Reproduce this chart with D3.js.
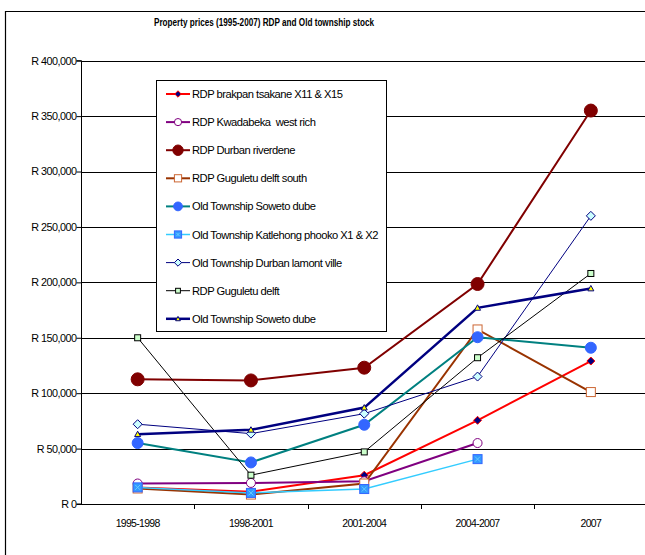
<!DOCTYPE html>
<html><head><meta charset="utf-8">
<script src="https://cdn.jsdelivr.net/npm/d3@7"></script>
<style>body{margin:0;background:#fff}svg{display:block;font-family:"Liberation Sans",Arial,sans-serif}text{white-space:pre}</style>
</head><body><svg id="c" width="645" height="555"></svg>
<script>
const categories = ["1995-1998","1998-2001","2001-2004","2004-2007","2007"];
const yTicks = [0,50000,100000,150000,200000,250000,300000,350000,400000];
const seriesNames = ["RDP brakpan tsakane X11 & X15","RDP Kwadabeka  west rich","RDP Durban riverdene","RDP Guguletu delft south","Old Township Soweto dube","Old Township Katlehong phooko X1 & X2","Old Township Durban lamont ville","RDP Guguletu delft","Old Township Soweto dube"];
const brakpan    = [15000, 11000, 26000, 75500, 129000];
const kwadabeka  = [18500, 19000, 20500, 55000, null];
const riverdene  = [112500, 111500, 123000, 198500, 355000];
const delftSouth = [14000, 8500, 18500, 157500, 101000];
const sowetoTeal = [55000, 37500, 71500, 150500, 141000];
const katlehong  = [15000, 10000, 13500, 40500, null];
const lamont     = [72000, 63500, 81500, 115000, 260000];
const delft      = [150000, 26000, 47000, 132000, 208000];
const sowetoNavy = [63000, 67000, 87000, 177000, 194500];
const seriesValues = [brakpan,kwadabeka,riverdene,delftSouth,sowetoTeal,katlehong,lamont,delft,sowetoNavy];

const styles = [
 {line:"#ff0000", w:2, m:"diamond", size:8, fill:"#000080", stroke:"#ff0000"},
 {line:"#800080", w:2, m:"circle", size:4.5, fill:"#ffffff", stroke:"#800080"},
 {line:"#800000", w:2, m:"circle", size:6.5, fill:"#800000", stroke:"#800000"},
 {line:"#993300", w:2, m:"square", size:9, fill:"#ffffff", stroke:"#cc6633"},
 {line:"#008080", w:2, m:"circle", size:5.5, fill:"#3366ff", stroke:"#3366ff"},
 {line:"#33ccff", w:1.5, m:"xsquare", size:9, fill:"#3399ff", stroke:"#3366ff"},
 {line:"#000080", w:1, m:"diamond", size:9, fill:"#ccffff", stroke:"#000080"},
 {line:"#000000", w:1, m:"square", size:6, fill:"#ccffcc", stroke:"#000000"},
 {line:"#000080", w:2.5, m:"triangle", size:6, fill:"#ffff00", stroke:"#000080"}
];

const svg = d3.select("#c");
const L=81, R=647.5, T=60.7, B=504;
const x = d3.scaleBand().domain(categories).range([L,R]);
const cx = c => x(c)+x.bandwidth()/2;
const y = d3.scaleLinear().domain([0,400000]).range([B,T]);

// frame
svg.append("path").attr("d","M5.5,555 V11.5 H645").attr("fill","none").attr("stroke","#000").attr("stroke-width",1.2);

// title
svg.append("text").attr("x",264).attr("y",26).attr("text-anchor","middle")
 .attr("font-size",10.5).attr("font-weight","bold").attr("textLength",220).attr("lengthAdjust","spacingAndGlyphs")
 .text("Property prices (1995-2007) RDP and Old township stock");

// grid
svg.append("g").selectAll("line").data(yTicks.filter(d=>d>0)).join("line")
 .attr("x1",L).attr("x2",645).attr("y1",d=>Math.round(y(d))+0.5).attr("y2",d=>Math.round(y(d))+0.5)
 .attr("stroke","#000").attr("stroke-width",1);

// y axis
const yAxis = d3.axisLeft(y).tickValues(yTicks).tickSize(5).tickFormat(d=>"R "+d3.format(",")(d));
const gy = svg.append("g").attr("transform",`translate(${L+0.5},0)`).call(yAxis);
gy.select(".domain").attr("d",`M-5,${y(400000)}H0V${B}H-5`);
gy.selectAll("text").attr("font-size",10.8).attr("font-family","Liberation Sans, Arial, sans-serif").attr("letter-spacing",-0.5).attr("fill","#000").attr("x",-5);
gy.selectAll("text").filter(d=>d===0).text("R 0");

// x axis
svg.append("line").attr("x1",L).attr("x2",645).attr("y1",B+0.5).attr("y2",B+0.5).attr("stroke","#000");
svg.append("g").selectAll("line").data(categories).join("line")
 .attr("x1",d=>Math.round(x(d)+x.bandwidth())+0.5).attr("x2",d=>Math.round(x(d)+x.bandwidth())+0.5)
 .attr("y1",B).attr("y2",B+5).attr("stroke","#000");
svg.append("g").selectAll("text").data(categories).join("text")
 .attr("x",d=>cx(d)).attr("y",527).attr("text-anchor","middle").attr("font-size",10.5).attr("letter-spacing",-0.7)
 .text(d=>d);

function marker(g, st, px, py, scale){
  const s = st.size*(scale||1);
  let el;
  if(st.m==="circle"){
    el = g.append("circle").attr("cx",px).attr("cy",py).attr("r",s);
  } else if(st.m==="square"){
    el = g.append("rect").attr("x",px-s/2).attr("y",py-s/2).attr("width",s).attr("height",s);
  } else if(st.m==="xsquare"){
    g.append("rect").attr("x",px-s/2).attr("y",py-s/2).attr("width",s).attr("height",s).attr("fill",st.fill).attr("stroke",st.stroke);
    g.append("path").attr("d",`M${px-s/2+2},${py-s/2+2}L${px+s/2-2},${py+s/2-2}M${px+s/2-2},${py-s/2+2}L${px-s/2+2},${py+s/2-2}`).attr("stroke","#66ccff").attr("stroke-width",1);
    return;
  } else if(st.m==="diamond"){
    const h=s/2;
    el = g.append("path").attr("d",`M${px},${py-h}L${px+h},${py}L${px},${py+h}L${px-h},${py}Z`);
  } else if(st.m==="triangle"){
    const h=s/2;
    el = g.append("path").attr("d",`M${px},${py-h}L${px+h},${py+h*0.8}L${px-h},${py+h*0.8}Z`);
  }
  el.attr("fill",st.fill).attr("stroke",st.stroke).attr("stroke-width",1);
}

// series
const line = d3.line().defined(d=>d.v!==null).x(d=>cx(d.c)).y(d=>y(d.v));
seriesValues.forEach((vals,i)=>{
  const st = styles[i];
  const data = categories.map((c,j)=>({c, v:vals[j]}));
  const g = svg.append("g");
  g.append("path").datum(data).attr("d",line).attr("fill","none").attr("stroke",st.line).attr("stroke-width",st.w);
  data.filter(d=>d.v!==null).forEach(d=>marker(g,st,cx(d.c),y(d.v)));
});

// legend
const lg = svg.append("g");
lg.append("rect").attr("x",156.5).attr("y",80.5).attr("width",230).attr("height",251).attr("fill","#fff").attr("stroke","#000").attr("stroke-width",1);
seriesNames.forEach((n,i)=>{
  const st = styles[i];
  const yy = 94 + i*28.1;
  lg.append("line").attr("x1",166).attr("x2",190).attr("y1",yy).attr("y2",yy).attr("stroke",st.line).attr("stroke-width",st.w);
  marker(lg,st,178,yy,0.8);
  lg.append("text").attr("x",192).attr("y",yy+4).attr("font-size",11.2).attr("letter-spacing",-0.5).text(n);
});
</script></body></html>
